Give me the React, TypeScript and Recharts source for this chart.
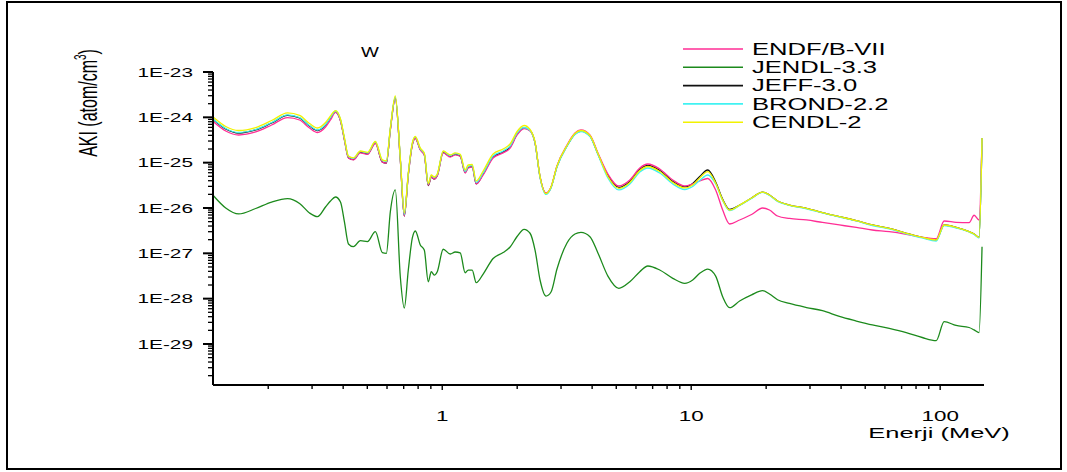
import { LineChart, Line, XAxis, YAxis, Legend, Customized } from 'recharts';

// neutron energy, MeV
const energy = [
  0.1208, 0.135, 0.1522, 0.1781, 0.2064, 0.2392, 0.2673, 0.293, 0.3155, 0.3397, 0.3557,
  0.3725, 0.3902, 0.4047, 0.42, 0.4398, 0.4691, 0.5006, 0.5388, 0.5747, 0.5964,
  0.6188, 0.6479, 0.6785, 0.7041, 0.7306, 0.7583, 0.7796, 0.8163, 0.8469, 0.8788,
  0.9035, 0.9288, 0.9549, 1.009, 1.077, 1.127, 1.181, 1.236, 1.271, 1.319,
  1.369, 1.46, 1.601, 1.756, 1.873, 1.998, 2.132, 2.253, 2.359, 2.471,
  2.611, 2.735, 2.89, 3.17, 3.413, 3.607, 3.92, 4.22, 4.628, 5.122,
  5.669, 6.217, 6.695, 7.476, 8.433, 9.417, 10.14, 10.82, 11.65, 12.54,
  13.38, 14.27, 15.65, 17.48, 19.35, 20.63, 22.22, 24.81, 29.04, 33.66,
  39.38, 46.06, 53.4, 62.46, 73.06, 84.71, 96.39, 103.8, 115.9, 130.7,
  136.9, 143.3, 147.3,
];

const endf = [
  7.9e-25, 5.0e-25, 4.08e-25, 4.75e-25, 6.77e-25, 9.9e-25, 8.74e-25, 5.82e-25, 4.63e-25, 6.12e-25, 8.74e-25,
  1.28e-24, 8.3e-25, 3.16e-25, 1.27e-25, 1.15e-25, 1.64e-25, 1.52e-25, 2.65e-25, 1.03e-25, 9.83e-26,
  5.26e-25, 2.61e-24, 1.15e-25, 6.66e-27, 5.35e-26, 2.45e-25, 3.41e-25, 1.9e-25, 1.48e-25, 3.21e-26,
  4.83e-26, 4.37e-26, 5.08e-26, 1.64e-25, 1.33e-25, 1.48e-25, 1.37e-25, 5.92e-26, 7.63e-26, 8.02e-26,
  3.39e-26, 5.35e-26, 1.27e-25, 1.64e-25, 2.1e-25, 4.08e-25, 5.67e-25, 5.0e-25, 2.72e-25, 4.83e-26,
  2.14e-26, 2.91e-26, 8.44e-26, 2.45e-25, 4.5e-25, 5.26e-25, 4.08e-25, 1.64e-25, 5.62e-26, 3.06e-26,
  4.15e-26, 7.63e-26, 9.34e-26, 7.25e-26, 4.15e-26, 3.06e-26, 3.39e-26, 3.94e-26, 4.47e-26, 2.5e-26,
  9.03e-27, 4.44e-27, 5.44e-27, 7.19e-27, 1.0e-26, 9.03e-27, 6.66e-27, 5.87e-27, 5.44e-27, 4.79e-27,
  4.22e-27, 3.72e-27, 3.27e-27, 3.0e-27, 2.63e-27, 2.25e-27, 2.1e-27, 5.17e-27, 4.84e-27, 4.74e-27,
  6.91e-27, 5.44e-27, 3.5e-25,
];

const jendl = [
  1.84e-26, 1.0e-26, 7.38e-27, 9.75e-27, 1.35e-26, 1.61e-26, 1.26e-26, 7.76e-27, 6.43e-27, 1.05e-26, 1.43e-26,
  1.75e-26, 1.35e-26, 4.91e-27, 1.61e-27, 1.4e-27, 1.9e-27, 1.81e-27, 3.0e-27, 1.03e-27, 1.0e-27,
  8.29e-27, 2.5e-26, 3.05e-28, 6.22e-29, 4.28e-28, 2.18e-27, 3.11e-27, 1.53e-27, 1.18e-27, 2.36e-28,
  3.93e-28, 3.3e-28, 3.93e-28, 1.23e-27, 9.65e-28, 1.07e-27, 1.02e-27, 3.73e-28, 4.28e-28, 4.28e-28,
  2.25e-28, 3.49e-28, 7.68e-28, 1.04e-27, 1.38e-27, 2.35e-27, 3.39e-27, 2.77e-27, 1.18e-27, 2.58e-28,
  1.14e-28, 1.4e-28, 4.5e-28, 1.69e-27, 2.67e-27, 2.91e-27, 2.33e-27, 1.02e-27, 3.15e-28, 1.69e-28,
  2.36e-28, 3.93e-28, 5.25e-28, 4.28e-28, 2.81e-28, 2.18e-28, 2.58e-28, 3.62e-28, 4.5e-28, 3.15e-28,
  1.1e-28, 6.31e-29, 8.87e-29, 1.21e-28, 1.5e-28, 1.27e-28, 9.48e-29, 7.82e-29, 6.37e-29, 5.42e-29,
  4.04e-29, 3.21e-29, 2.63e-29, 2.21e-29, 1.79e-29, 1.39e-29, 1.19e-29, 3.1e-29, 2.56e-29, 2.31e-29,
  2.04e-29, 1.78e-29, 1.4e-27,
];

const jeff = [
  8.74e-25, 5.53e-25, 4.5e-25, 5.26e-25, 7.5e-25, 1.1e-24, 9.66e-25, 6.44e-25, 5.12e-25, 6.77e-25, 9.66e-25,
  1.31e-24, 8.5e-25, 3.24e-25, 1.29e-25, 1.17e-25, 1.68e-25, 1.55e-25, 2.72e-25, 1.03e-25, 9.83e-26,
  5.39e-25, 2.67e-24, 1.17e-25, 6.66e-27, 5.48e-26, 2.52e-25, 3.5e-25, 1.95e-25, 1.52e-25, 3.13e-26,
  4.83e-26, 4.37e-26, 5.22e-26, 1.68e-25, 1.37e-25, 1.52e-25, 1.4e-25, 6.07e-26, 7.83e-26, 8.23e-26,
  3.39e-26, 5.62e-26, 1.33e-25, 1.72e-25, 2.21e-25, 4.29e-25, 5.82e-25, 5.12e-25, 2.72e-25, 4.83e-26,
  2.08e-26, 2.84e-26, 8.23e-26, 2.33e-25, 4.29e-25, 5.0e-25, 3.88e-25, 1.55e-25, 5.22e-26, 2.84e-26,
  3.84e-26, 7.06e-26, 8.66e-26, 6.72e-26, 3.84e-26, 2.91e-26, 3.47e-26, 4.95e-26, 6.89e-26, 3.74e-26,
  1.55e-26, 9.27e-27, 1.16e-26, 1.66e-26, 2.25e-26, 1.94e-26, 1.43e-26, 1.16e-26, 9.85e-27, 7.88e-27,
  6.43e-27, 5.25e-27, 4.22e-27, 3.56e-27, 2.77e-27, 2.25e-27, 1.97e-27, 4.22e-27, 3.75e-27, 3.0e-27,
  2.67e-27, 2.25e-27, 3.5e-25,
];

const brond = [
  8.95e-25, 5.67e-25, 4.63e-25, 5.39e-25, 7.69e-25, 1.13e-24, 9.9e-25, 6.6e-25, 5.26e-25, 6.95e-25, 9.9e-25,
  1.38e-24, 8.95e-25, 3.41e-25, 1.37e-25, 1.24e-25, 1.77e-25, 1.64e-25, 2.86e-25, 1.12e-25, 1.06e-25,
  5.67e-25, 2.81e-24, 1.24e-25, 7.19e-27, 5.78e-26, 2.65e-25, 3.69e-25, 2.02e-25, 1.59e-25, 3.39e-26,
  5.22e-26, 4.7e-26, 5.48e-26, 1.77e-25, 1.44e-25, 1.59e-25, 1.48e-25, 6.38e-26, 8.23e-26, 8.66e-26,
  3.66e-26, 5.92e-26, 1.4e-25, 1.81e-25, 2.33e-25, 4.5e-25, 5.96e-25, 5.12e-25, 2.72e-25, 4.7e-26,
  1.99e-26, 2.77e-26, 8.02e-26, 2.31e-25, 4.18e-25, 4.87e-25, 3.78e-25, 1.52e-25, 4.59e-26, 2.5e-26,
  3.39e-26, 6.22e-26, 7.63e-26, 5.92e-26, 3.39e-26, 2.56e-26, 2.98e-26, 4.05e-26, 5.35e-26, 3.39e-26,
  1.46e-26, 8.8e-27, 1.14e-26, 1.63e-26, 2.2e-26, 1.89e-26, 1.4e-26, 1.14e-26, 9.6e-27, 7.76e-27,
  6.33e-27, 5.17e-27, 4.11e-27, 3.47e-27, 2.7e-27, 2.18e-27, 1.87e-27, 4.11e-27, 3.62e-27, 2.96e-27,
  2.61e-27, 2.18e-27, 3.5e-25,
];

const cendl = [
  9.9e-25, 6.28e-25, 5.12e-25, 5.96e-25, 8.5e-25, 1.25e-24, 1.1e-24, 7.32e-25, 5.82e-25, 7.69e-25, 1.07e-24,
  1.41e-24, 9.18e-25, 3.5e-25, 1.4e-25, 1.27e-25, 1.81e-25, 1.68e-25, 2.93e-25, 1.15e-25, 1.09e-25,
  5.82e-25, 2.96e-24, 1.27e-25, 7.76e-27, 5.92e-26, 2.72e-25, 3.78e-25, 2.1e-25, 1.64e-25, 3.47e-26,
  5.35e-26, 4.83e-26, 5.62e-26, 1.81e-25, 1.48e-25, 1.64e-25, 1.52e-25, 6.89e-26, 8.88e-26, 9.11e-26,
  3.94e-26, 6.55e-26, 1.55e-25, 2.0e-25, 2.58e-25, 4.87e-25, 6.6e-25, 5.39e-25, 2.86e-25, 4.95e-26,
  2.08e-26, 2.91e-26, 8.44e-26, 2.39e-25, 4.4e-25, 5.12e-25, 3.97e-25, 1.59e-25, 4.95e-26, 2.7e-26,
  3.66e-26, 6.72e-26, 8.23e-26, 6.38e-26, 3.66e-26, 2.77e-26, 3.21e-26, 4.59e-26, 6.32e-26, 3.55e-26,
  1.5e-26, 9.03e-27, 1.16e-26, 1.66e-26, 2.25e-26, 1.94e-26, 1.43e-26, 1.16e-26, 9.85e-27, 7.88e-27,
  6.43e-27, 5.25e-27, 4.22e-27, 3.56e-27, 2.77e-27, 2.25e-27, 1.97e-27, 4.22e-27, 3.75e-27, 3.0e-27,
  2.67e-27, 2.25e-27, 3.5e-25,
];

const xMajorTicks = [1, 10, 100];
const xTickLabels = ['1', '10', '100'];
const xMinorTicks = [
  0.2, 0.3, 0.4, 0.5, 0.6, 0.7, 0.8, 0.9,
  2, 3, 4, 5, 6, 7, 8, 9,
  20, 30, 40, 50, 60, 70, 80, 90,
];
const yMajorTicks = [1e-29, 1e-28, 1e-27, 1e-26, 1e-25, 1e-24, 1e-23];
const yTickLabels = ['1E-29', '1E-28', '1E-27', '1E-26', '1E-25', '1E-24', '1E-23'];
const yMinorTicks = [1e-30, ...yMajorTicks.slice(0, -1)].flatMap((m) =>
  [2, 3, 4, 5, 6, 7, 8, 9].map((k) => k * m),
);

const series = [
  { key: 'endf', name: 'ENDF/B-VII', color: '#ff2d95' },
  { key: 'jendl', name: 'JENDL-3.3', color: '#1c8a1c' },
  { key: 'jeff', name: 'JEFF-3.0', color: '#111111' },
  { key: 'brond', name: 'BROND-2.2', color: '#40f2f2' },
  { key: 'cendl', name: 'CENDL-2', color: '#f2f200' },
];
// draw order: yellow ends up on top, as in the original
const drawOrder = ['jendl', 'jeff', 'endf', 'brond', 'cendl'];

const data = energy.map((e, i) => ({
  e,
  endf: endf[i],
  jendl: jendl[i],
  jeff: jeff[i],
  brond: brond[i],
  cendl: cendl[i],
}));

const W = 1067;
const H = 472;
const LEFT = 213;
const TOP = 72;
const RIGHT = 984;
const BOTTOM = 385;
const FONT = '"Liberation Sans", Arial, sans-serif';

const findLabel = (ticks: number[], labels: string[], v: number) => {
  const i = ticks.findIndex((t) => Math.abs(Math.log10(t) - Math.log10(v)) < 1e-6);
  return i >= 0 ? labels[i] : null;
};

function XTick(props: any) {
  const { x, payload } = props;
  const label = findLabel(xMajorTicks, xTickLabels, payload.value);
  return (
    <g>
      <line x1={x} x2={x} y1={BOTTOM} y2={BOTTOM + (label ? 5 : 4)} stroke="#000" strokeWidth={1.4} />
      {label && (
        <text
          transform={`translate(${x},${BOTTOM + 36}) scale(1.6,1)`}
          textAnchor="middle"
          fontSize={14}
          fontFamily={FONT}
          fill="#000"
        >
          {label}
        </text>
      )}
    </g>
  );
}

function YTick(props: any) {
  const { y, payload } = props;
  const label = findLabel(yMajorTicks, yTickLabels, payload.value);
  return (
    <g>
      <line
        x1={LEFT - (label ? 10 : 5)}
        x2={LEFT}
        y1={y}
        y2={y}
        stroke="#000"
        strokeWidth={label ? 2 : 1.3}
      />
      {label && (
        <text
          transform={`translate(${LEFT - 20},${y + 4.7}) scale(1.6,1)`}
          textAnchor="end"
          fontSize={13}
          fontFamily={FONT}
          fill="#000"
        >
          {label}
        </text>
      )}
    </g>
  );
}

function LegendBox() {
  return (
    <svg width={330} height={100} style={{ overflow: 'visible' }}>
      {series.map((s, i) => {
        const y = 9 + i * 18.3;
        return (
          <g key={s.key}>
            <line x1={0} x2={60} y1={y} y2={y} stroke={s.color} strokeWidth={1.6} />
            <text
              transform={`translate(69,${y + 5.6}) scale(1.6,1)`}
              fontSize={16}
              fontFamily={FONT}
              fill="#000"
            >
              {s.name}
            </text>
          </g>
        );
      })}
    </svg>
  );
}

function Extras() {
  return (
    <g fontFamily={FONT} fill="#000">
      <text transform="translate(370,57) scale(1.35,1)" textAnchor="middle" fontSize={14}>
        W
      </text>
      <text transform="translate(97,103) scale(1.6,1) rotate(-90)" textAnchor="middle" fontSize={16}>
        AKI (atom/cm
        <tspan dy={-7} fontSize={10}>
          3
        </tspan>
        <tspan dy={7}>)</tspan>
      </text>
      <text transform="translate(939,438) scale(1.7,1)" textAnchor="middle" fontSize={15}>
        Enerji (MeV)
      </text>
    </g>
  );
}

export default function App() {
  return (
    <div style={{ position: 'absolute', left: 0, top: 0, width: W, height: H, background: '#fff' }}>
      <div
        style={{
          position: 'absolute',
          left: 6,
          top: 1,
          width: 1056,
          height: 469,
          border: '2px solid #000',
          boxSizing: 'border-box',
        }}
      />
      <LineChart
        width={W}
        height={H}
        data={data}
        margin={{ top: TOP, right: W - RIGHT, bottom: 47, left: LEFT - 80 }}
      >
        <XAxis
          dataKey="e"
          type="number"
          scale="log"
          domain={[0.12, 150]}
          allowDataOverflow
          ticks={[...xMinorTicks, ...xMajorTicks].sort((a, b) => a - b)}
          interval={0}
          height={40}
          axisLine={{ stroke: '#000', strokeWidth: 2 }}
          tickLine={false}
          tick={<XTick />}
        />
        <YAxis
          type="number"
          scale="log"
          domain={[1.245e-30, 1e-23]}
          allowDataOverflow
          ticks={[...yMinorTicks, ...yMajorTicks].sort((a, b) => a - b)}
          interval={0}
          width={80}
          axisLine={{ stroke: '#000', strokeWidth: 2 }}
          tickLine={false}
          tick={<YTick />}
        />
        {drawOrder.map((k) => {
          const s = series.find((d) => d.key === k)!;
          return (
            <Line
              key={k}
              dataKey={k}
              name={s.name}
              type="monotone"
              stroke={s.color}
              strokeWidth={1.3}
              dot={false}
              isAnimationActive={false}
            />
          );
        })}
        <Legend
          layout="vertical"
          align="center"
          verticalAlign="middle"
          content={<LegendBox />}
          wrapperStyle={{ left: 683, top: 40, width: 330, height: 100 }}
        />
        <Customized component={<Extras />} />
      </LineChart>
    </div>
  );
}
